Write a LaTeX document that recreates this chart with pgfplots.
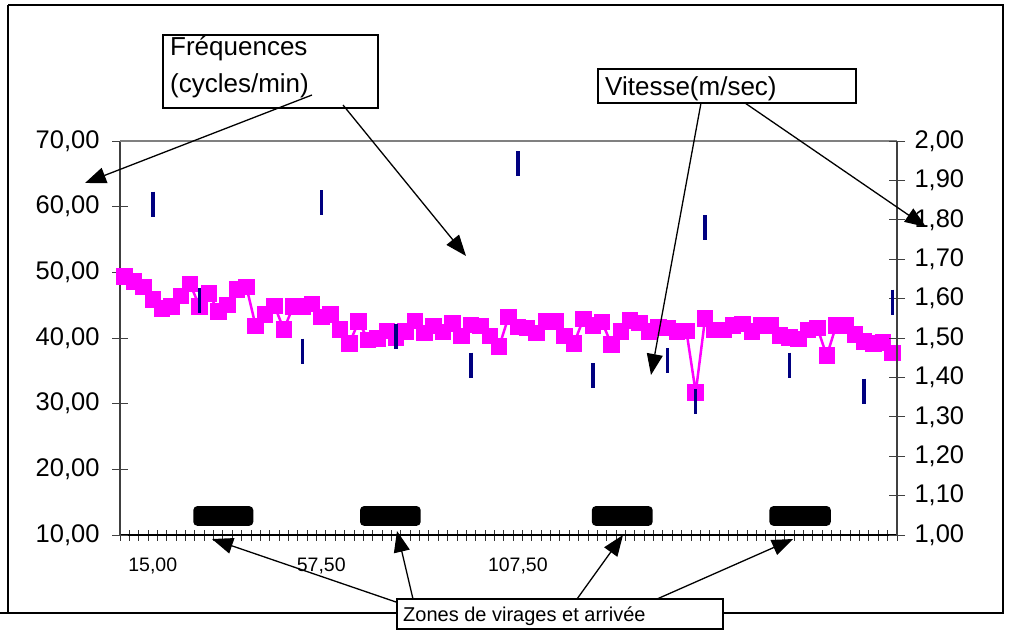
\documentclass[border=0pt]{standalone}
\usepackage{fontspec}
\setmainfont{Liberation Sans}
\usepackage{pgfplots}
\pgfplotsset{compat=1.18}
\usetikzlibrary{arrows.meta}
\definecolor{pinkc}{RGB}{255,0,255}
\definecolor{navyc}{RGB}{0,0,128}

\begin{document}
\begin{tikzpicture}[x=1pt,y=1pt]
\useasboundingbox (0,0) rectangle (1012,-635);
% outer frame
\draw[line width=1.2pt] (8,-5) -- (1003,-5) -- (1003,-613) -- (723,-613);
\draw[line width=1.2pt] (397,-613) -- (0,-613);
\draw[line width=1.2pt] (8,-5) -- (8,-613);

% x axis ticks only
\begin{axis}[at={(120pt,-535pt)}, anchor=south west, scale only axis,
  width=777pt, height=394pt,
  xmin=-0.5, xmax=82.5, ymin=10, ymax=70,
  axis x line*=bottom, axis y line=none,
  tick align=center, major tick length=11pt,
  x axis line style={black, line width=1.5pt},
  xtick={-0.5,0.5,...,82.5}, xticklabels={},
  xtick style={black!80, line width=1pt},
  extra x ticks={3,21,42},
  extra x tick labels={{15,00},{57,50},{107,50}},
  extra x tick style={tick style={draw=none},
     xticklabel style={font=\fontsize{19.5}{23}\selectfont, yshift=-14pt}},
]
\end{axis}

\begin{axis}[at={(120pt,-535pt)}, anchor=south west, scale only axis,
  width=777pt, height=394pt,
  xmin=-0.5, xmax=82.5, ymin=10, ymax=70,
  axis x line=none, axis y line*=left,
  clip=false,
  tick align=center, major tick length=16pt,
  y axis line style={black!75, line width=1.5pt},
  ytick={10,20,...,70},
  ytick style={black!75, line width=1pt},
  yticklabel style={font=\fontsize{25.5}{30}\selectfont, xshift=-9pt,
     /pgf/number format/.cd, fixed, fixed zerofill, precision=2, use comma},
  /pgf/number format/assume math mode=true,
]
\draw[black!50, line width=1.5pt] (axis cs:-0.5,70) -- (axis cs:82.5,70);
% zones
\fill[black, rounded corners=4pt] (axis cs:7.33,11.4) rectangle (axis cs:13.74,14.4);
\fill[black, rounded corners=4pt] (axis cs:25.14,11.4) rectangle (axis cs:31.62,14.4);
\fill[black, rounded corners=4pt] (axis cs:49.9,11.4) rectangle (axis cs:56.4,14.4);
\fill[black, rounded corners=4pt] (axis cs:68.87,11.4) rectangle (axis cs:75.43,14.4);
\addplot[pinkc, line width=2.5pt, mark=square*, mark size=7pt, mark options={solid}] coordinates {
(0,49.4) (1,48.6) (2,47.8) (3,45.9) (4,44.5) (5,44.8) (6,46.4) (7,48.2) (8,44.8) (9,46.8)
(10,44.0) (11,45.0) (12,47.4) (13,47.8) (14,41.8) (15,43.6) (16,44.9) (17,41.3) (18,44.8) (19,44.8)
(20,45.2) (21,43.2) (22,43.6) (23,41.3) (24,39.2) (25,42.5) (26,39.7) (27,39.9) (28,41.1) (29,40.0)
(30,41.0) (31,42.6) (32,40.8) (33,41.8) (34,40.9) (35,42.2) (36,40.3) (37,42.0) (38,41.8) (39,40.3)
(40,38.7) (41,43.2) (42,41.7) (43,41.5) (44,40.8) (45,42.5) (46,42.5) (47,40.3) (48,39.2) (49,42.9)
(50,41.9) (51,42.4) (52,39.0) (53,41.0) (54,42.7) (55,42.3) (56,41.0) (57,41.6) (58,41.5) (59,41.0)
(60,41.1) (61,31.7) (62,43.0) (63,41.2) (64,41.2) (65,41.9) (66,42.1) (67,41.0) (68,41.9) (69,41.9)
(70,40.4) (71,40.1) (72,39.85) (73,41.2) (74,41.5) (75,37.3) (76,41.9) (77,41.9) (78,40.5) (79,39.5)
(80,39.2) (81,39.35) (82,37.7)
};
\end{axis}

\begin{axis}[at={(120pt,-535pt)}, anchor=south west, scale only axis,
  width=777pt, height=394pt,
  xmin=-0.5, xmax=82.5, ymin=1, ymax=2,
  axis x line=none, axis y line*=right,
  clip=false,
  tick align=center, major tick length=16pt,
  y axis line style={black!75, line width=1.5pt},
  ytick={1,1.1,1.2,1.3,1.4,1.5,1.6,1.7,1.8,1.9,2},
  ytick style={black!75, line width=1pt},
  yticklabel style={font=\fontsize{25.5}{30}\selectfont, xshift=6pt,
     /pgf/number format/.cd, fixed, fixed zerofill, precision=2, use comma},
  /pgf/number format/assume math mode=true,
]
\addplot[only marks, navyc, mark=|, mark size=12.5pt, mark options={line width=3.5pt}] coordinates {
(3,1.84) (8,1.594) (19,1.467) (21,1.843) (29,1.505) (37,1.431) (42,1.942)
(50,1.404) (58,1.442) (61,1.338) (62,1.78) (71,1.431) (79,1.365) (82,1.591)
};
\end{axis}

% annotation boxes
\draw[line width=1.3pt] (163,-35) rectangle (378,-108);
\node[anchor=base west, inner sep=0, font=\fontsize{26}{30}\selectfont] at (170,-55) {Fréquences};
\node[anchor=base west, inner sep=0, font=\fontsize{26}{30}\selectfont] at (170,-92) {(cycles/min)};
\draw[line width=1.3pt] (598,-69) rectangle (856,-103);
\node[anchor=base west, inner sep=0, font=\fontsize{26}{30}\selectfont] at (605,-95) {Vitesse(m/sec)};
\draw[line width=1.3pt, fill=white] (397,-599) rectangle (723,-629);
\node[anchor=base west, inner sep=0, font=\fontsize{20}{24}\selectfont] at (403,-621) {Zones de virages et arrivée};
% arrows
\tikzset{arr/.style={line width=1.3pt, -{Triangle[length=21pt,width=16pt]}}}
\draw[arr] (312,-95) -- (85,-183);
\draw[arr] (343,-105) -- (466,-256);
\draw[arr] (701,-103) -- (651,-375);
\draw[arr] (745,-103) -- (926,-227);
\draw[arr] (396,-602) -- (212,-539);
\draw[arr] (413,-599) -- (397,-531);
\draw[arr] (577,-599) -- (623,-535);
\draw[arr] (657,-599) -- (793,-539);
\end{tikzpicture}
\end{document}
